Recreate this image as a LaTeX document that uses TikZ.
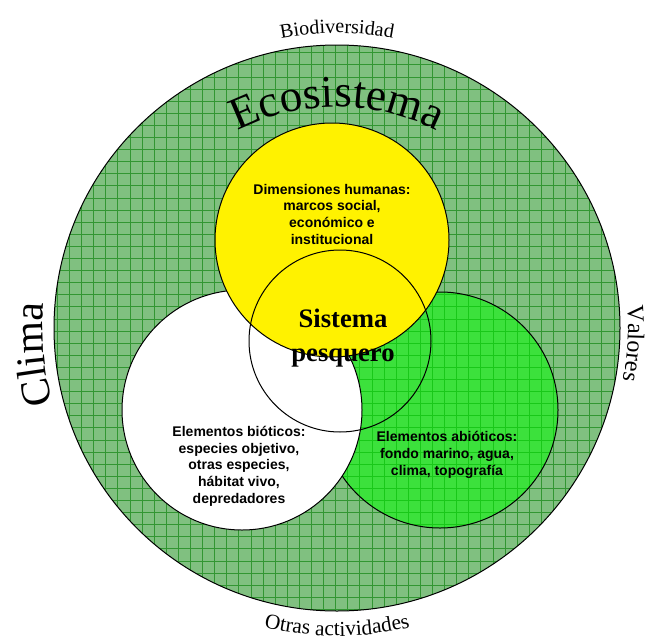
\documentclass[tikz,border=0pt]{standalone}
\usepackage{fontspec}
\setmainfont{Liberation Serif}
\setsansfont{Liberation Sans}
\usetikzlibrary{decorations.text}

\definecolor{ringfill}{RGB}{128,192,128}
\definecolor{ringgrid}{RGB}{50,150,50}
\definecolor{abiofill}{RGB}{60,225,60}
\definecolor{abiogrid}{RGB}{25,200,25}

\tikzset{every picture/.style={line width=0.75pt}}
\tikzset{
  boxtext/.style={align=center, inner sep=0.75pt, font=\sffamily\bfseries\fontsize{10.5}{12.5}\selectfont},
  arctext/.style={decorate, decoration={text along path, text align=center, text={#1}}},
}

\begin{document}
\begin{tikzpicture}[x=0.75pt,y=0.75pt,yscale=-1,xscale=1]
\useasboundingbox (0,0) rectangle (646,639);

\coordinate (eco) at (337,328);
\coordinate (hum) at (332,240);
\coordinate (bio) at (242,410);
\coordinate (abio) at (440,410);
\coordinate (pes) at (340,341);

%Shape: Circle (ecosistema)
\fill [color=ringfill] (eco) circle (283);
\begin{scope}
\clip (eco) circle (283);
\foreach \k in {-2,...,48} {
  \draw [color=ringgrid, line width=0.45pt] (69.3+12.1*\k,30) -- (69.3+12.1*\k,630);
  \draw [color=ringgrid, line width=0.45pt] (40,40.5+12.1*\k) -- (640,40.5+12.1*\k);
}
\end{scope}
\draw (eco) circle (283);

%Shape: Circle (abioticos)
\fill [color=abiofill] (abio) circle (118);
\begin{scope}
\clip (abio) circle (118);
\foreach \k in {17,...,42} {
  \draw [color=abiogrid, line width=0.45pt] (69.3+12.1*\k,280) -- (69.3+12.1*\k,540);
  \draw [color=abiogrid, line width=0.45pt] (300,40.5+12.1*\k) -- (580,40.5+12.1*\k);
}
\end{scope}
\draw (abio) circle (118);

%Shape: Circle (bioticos)
\draw [fill=white] (bio) circle (120);

%Shape: Circle (dimensiones humanas)
\draw [fill=yellow] (hum) circle (117);

%Shape: Circle (sistema pesquero)
\draw (pes) circle (91);

%Curved texts round the ecosystem
\path [arctext={|\fontsize{15}{15}\selectfont|Biodiversidad}] (eco) ++(230:295) arc [start angle=230, end angle=310, radius=295];
\path [arctext={|\fontsize{34}{34}\selectfont|Ecosistema}] (eco) ++(220:221) arc [start angle=220, end angle=320, radius=221];
\path [arctext={|\fontsize{31}{31}\selectfont|Clima}] (eco) ++(145:294) arc [start angle=145, end angle=205, radius=294];
\path [arctext={|\fontsize{18}{18}\selectfont|Valores}] (eco) ++(-27:291) arc [start angle=-27, end angle=33, radius=291];
\path [arctext={|\fontsize{16}{16}\selectfont|Otras actividades}] (eco) ++(125:308) arc [start angle=125, end angle=55, radius=308];

% Text Node
\draw (332,214) node [boxtext] (dimtext) {Dimensiones humanas:\\marcos social,\\económico e\\institucional};
% Text Node
\draw (239,466) node [boxtext] (biotext) {Elementos bióticos:\\especies objetivo,\\otras especies,\\hábitat vivo,\\depredadores};
% Text Node
\draw (447,455) node [boxtext] (abiotext) {Elementos abióticos:\\fondo marino, agua,\\clima, topografía};
% Text Node
\draw (343,338) node [align=center, inner sep=0.75pt, font=\bfseries\fontsize{20}{25}\selectfont] (pestext) {Sistema\\pesquero};

\end{tikzpicture}
\end{document}
